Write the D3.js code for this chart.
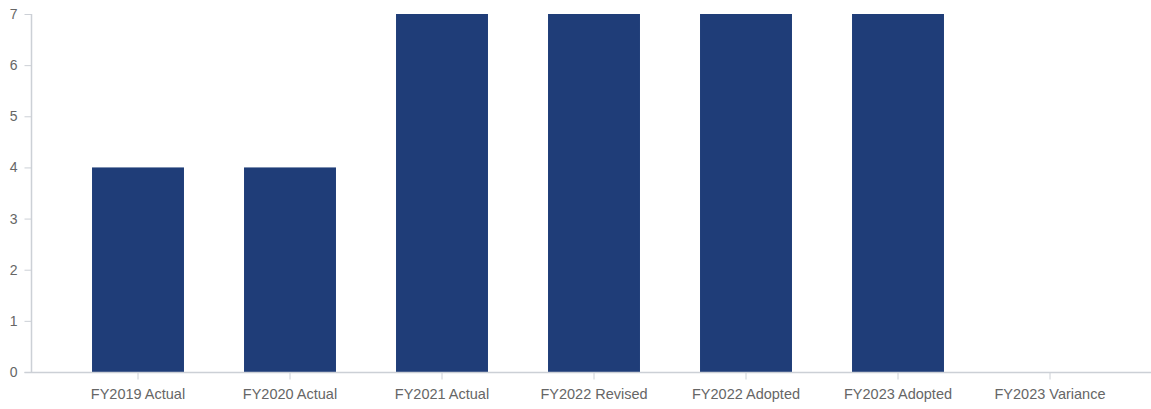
<!DOCTYPE html>
<html>
<head>
<meta charset="utf-8">
<script src="https://cdn.jsdelivr.net/npm/d3@7"></script>
<style>
  html, body { margin: 0; padding: 0; background: #fff; }
  svg text { font-family: "Liberation Sans", Arial, sans-serif; }
</style>
</head>
<body>
<svg id="chart" width="1151" height="409"></svg>
<script>
const categories = ["FY2019 Actual", "FY2020 Actual", "FY2021 Actual", "FY2022 Revised", "FY2022 Adopted", "FY2023 Adopted", "FY2023 Variance"];
const values = [4, 4, 7, 7, 7, 7, 0];
const yTicks = [0, 1, 2, 3, 4, 5, 6, 7];

const svg = d3.select("#chart");
const axisLeftX = 31.5, axisRightX = 1151;
const plotTop = 14, plotBottom = 372;

const x = d3.scaleBand()
  .domain(categories)
  .range([62, 1126])
  .paddingInner(0.395)
  .paddingOuter(0.1975);

const y = d3.scaleLinear().domain([0, 7]).range([plotBottom, plotTop]);

const axisColor = "#ccd0d6";
const textColor = "#666";

// bars
svg.append("g").selectAll("rect")
  .data(categories.map((c, i) => ({ c, v: values[i] })))
  .join("rect")
  .attr("x", d => x(d.c))
  .attr("width", x.bandwidth())
  .attr("y", d => y(d.v))
  .attr("height", d => y(0) - y(d.v))
  .attr("fill", "#1f3d78");

// y axis
const yAxis = svg.append("g")
  .attr("transform", `translate(${axisLeftX},0)`)
  .call(d3.axisLeft(y).tickValues(yTicks).tickSize(7).tickPadding(7).tickFormat(d3.format("d")));
yAxis.select(".domain").attr("stroke", axisColor).attr("stroke-width", 1.5).attr("d", `M0,${plotTop}V${plotBottom}`);
yAxis.selectAll(".tick line").attr("stroke", axisColor);
yAxis.selectAll(".tick text").attr("fill", textColor).attr("font-size", 14);

// x axis
const xAxis = svg.append("g")
  .attr("transform", `translate(0,${plotBottom + 0.5})`)
  .call(d3.axisBottom(x).tickSize(7).tickPadding(9));
xAxis.select(".domain").attr("stroke", axisColor).attr("stroke-width", 1.5).attr("d", `M${axisLeftX - 7},0H${axisRightX}`);
xAxis.selectAll(".tick line").attr("stroke", axisColor);
xAxis.selectAll(".tick text").attr("fill", textColor).attr("font-size", 14.5);
</script>
</body>
</html>
